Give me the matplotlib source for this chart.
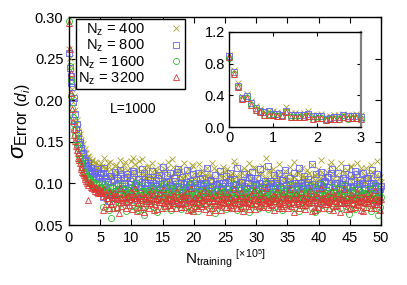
import numpy as np
import matplotlib
matplotlib.use('Agg')
import matplotlib.pyplot as plt

plt.rcParams['font.family'] = ['Liberation Sans', 'DejaVu Sans']
plt.rcParams['mathtext.fontset'] = 'custom'
plt.rcParams['mathtext.rm'] = 'Liberation Sans'
plt.rcParams['mathtext.it'] = 'Liberation Sans:italic'
plt.rcParams['mathtext.sf'] = 'Liberation Sans'

# main panel: N_training (x 1e5) vs sigma_Error, two interleaved sampling grids
x_a = np.arange(0, 50.01, 0.25)
x_b = np.arange(0.125, 50, 0.25)

err_400_a = [
    0.262, 0.241, 0.214, 0.205, 0.188, 0.176, 0.168, 0.159, 0.152, 0.147,
    0.141, 0.136, 0.132, 0.129, 0.124, 0.127, 0.121, 0.125, 0.118, 0.122,
    0.116, 0.121, 0.113, 0.119, 0.111, 0.124, 0.109, 0.117, 0.114, 0.108,
    0.122, 0.112, 0.106, 0.118, 0.115, 0.103, 0.126, 0.111, 0.107, 0.119,
    0.113, 0.131, 0.105, 0.116, 0.109, 0.127, 0.112, 0.104, 0.118, 0.110,
    0.106, 0.121, 0.101, 0.114, 0.108, 0.117, 0.103, 0.111, 0.099, 0.115,
    0.107, 0.112, 0.098, 0.119, 0.104, 0.109, 0.129, 0.102, 0.113, 0.097,
    0.108, 0.115, 0.101, 0.106, 0.111, 0.096, 0.117, 0.104, 0.109, 0.122,
    0.100, 0.107, 0.113, 0.098, 0.105, 0.116, 0.102, 0.110, 0.095, 0.108,
    0.112, 0.101, 0.106, 0.118, 0.099, 0.104, 0.111, 0.097, 0.107, 0.103,
    0.114, 0.100, 0.108, 0.096, 0.110, 0.105, 0.127, 0.102, 0.109, 0.099,
    0.106, 0.113, 0.101, 0.097, 0.108, 0.115, 0.100, 0.104, 0.118, 0.098,
    0.107, 0.103, 0.110, 0.096, 0.112, 0.101, 0.105, 0.099, 0.116, 0.102,
    0.108, 0.097, 0.111, 0.104, 0.100, 0.114, 0.098, 0.106, 0.102, 0.109,
    0.099, 0.112, 0.104, 0.097, 0.108, 0.101, 0.115, 0.103, 0.098, 0.107,
    0.110, 0.100, 0.105, 0.096, 0.113, 0.102, 0.108, 0.099, 0.104, 0.111,
    0.097, 0.106, 0.114, 0.101, 0.109, 0.098, 0.112, 0.103, 0.126, 0.105,
    0.100, 0.110, 0.097, 0.107, 0.102, 0.115, 0.099, 0.104, 0.111, 0.098,
    0.108, 0.121, 0.101, 0.106, 0.097, 0.113, 0.104, 0.118, 0.100, 0.109,
    0.103, 0.111, 0.098, 0.107, 0.114, 0.101, 0.105, 0.110, 0.099, 0.106,
    0.102]
err_400_b = [
    0.251, 0.226, 0.198, 0.183, 0.171, 0.163, 0.156, 0.149, 0.143, 0.138,
    0.137, 0.129, 0.133, 0.124, 0.128, 0.119, 0.126, 0.115, 0.120, 0.117,
    0.124, 0.098, 0.131, 0.105, 0.117, 0.092, 0.126, 0.109, 0.101, 0.121,
    0.095, 0.113, 0.128, 0.099, 0.107, 0.122, 0.090, 0.116, 0.104, 0.127,
    0.097, 0.111, 0.123, 0.093, 0.118, 0.102, 0.129, 0.096, 0.112, 0.106,
    0.120, 0.091, 0.108, 0.125, 0.099, 0.115, 0.094, 0.110, 0.122, 0.101,
    0.089, 0.117, 0.104, 0.126, 0.096, 0.109, 0.120, 0.093, 0.113, 0.100,
    0.118, 0.092, 0.107, 0.124, 0.098, 0.111, 0.087, 0.116, 0.103, 0.121,
    0.095, 0.110, 0.100, 0.123, 0.091, 0.114, 0.105, 0.090, 0.119, 0.097,
    0.108, 0.125, 0.094, 0.102, 0.116, 0.089, 0.111, 0.098, 0.120, 0.093,
    0.106, 0.117, 0.090, 0.104, 0.113, 0.096, 0.122, 0.100, 0.088, 0.115,
    0.103, 0.092, 0.119, 0.097, 0.110, 0.124, 0.094, 0.107, 0.101, 0.118,
    0.089, 0.112, 0.099, 0.121, 0.095, 0.106, 0.131, 0.092, 0.114, 0.102,
    0.117, 0.090, 0.108, 0.096, 0.123, 0.100, 0.111, 0.088, 0.115, 0.104,
    0.094, 0.120, 0.098, 0.109, 0.126, 0.091, 0.113, 0.103, 0.097, 0.119,
    0.106, 0.090, 0.116, 0.101, 0.093, 0.122, 0.099, 0.110, 0.095, 0.117,
    0.104, 0.128, 0.092, 0.108, 0.098, 0.114, 0.089, 0.121, 0.102, 0.111,
    0.096, 0.118, 0.093, 0.107, 0.124, 0.100, 0.112, 0.091, 0.116, 0.105,
    0.120, 0.094, 0.109, 0.097, 0.125, 0.103, 0.090, 0.115, 0.099, 0.110,
    0.118, 0.092, 0.106, 0.122, 0.096, 0.113, 0.101, 0.127, 0.094, 0.108]

err_800_a = [
    0.257, 0.229, 0.216, 0.203, 0.184, 0.172, 0.161, 0.150, 0.143, 0.136,
    0.128, 0.122, 0.124, 0.116, 0.119, 0.111, 0.114, 0.108, 0.117, 0.106,
    0.110, 0.103, 0.113, 0.099, 0.107, 0.102, 0.095, 0.109, 0.086, 0.104,
    0.098, 0.106, 0.093, 0.111, 0.097, 0.101, 0.090, 0.108, 0.094, 0.103,
    0.099, 0.115, 0.092, 0.100, 0.096, 0.105, 0.089, 0.102, 0.112, 0.094,
    0.098, 0.091, 0.104, 0.095, 0.100, 0.087, 0.097, 0.106, 0.093, 0.099,
    0.092, 0.101, 0.096, 0.110, 0.090, 0.098, 0.094, 0.085, 0.103, 0.097,
    0.117, 0.093, 0.100, 0.089, 0.096, 0.102, 0.091, 0.099, 0.095, 0.087,
    0.101, 0.094, 0.098, 0.090, 0.105, 0.092, 0.097, 0.088, 0.100, 0.095,
    0.091, 0.103, 0.096, 0.087, 0.099, 0.093, 0.101, 0.089, 0.097, 0.094,
    0.100, 0.090, 0.095, 0.104, 0.088, 0.098, 0.093, 0.099, 0.086, 0.096,
    0.092, 0.102, 0.097, 0.089, 0.094, 0.100, 0.091, 0.106, 0.095, 0.088,
    0.098, 0.093, 0.101, 0.087, 0.096, 0.092, 0.099, 0.085, 0.095, 0.103,
    0.090, 0.097, 0.094, 0.100, 0.088, 0.096, 0.093, 0.104, 0.091, 0.098,
    0.095, 0.089, 0.099, 0.092, 0.101, 0.086, 0.097, 0.094, 0.090, 0.100,
    0.093, 0.098, 0.088, 0.102, 0.095, 0.091, 0.099, 0.084, 0.096, 0.076,
    0.094, 0.100, 0.089, 0.097, 0.103, 0.092, 0.108, 0.096, 0.113, 0.090,
    0.098, 0.093, 0.101, 0.087, 0.095, 0.099, 0.091, 0.104, 0.094, 0.088,
    0.096, 0.102, 0.090, 0.097, 0.111, 0.093, 0.099, 0.086, 0.100, 0.095,
    0.092, 0.106, 0.089, 0.097, 0.094, 0.101, 0.088, 0.078, 0.096, 0.091,
    0.097]
err_800_b = [
    0.239, 0.221, 0.198, 0.176, 0.166, 0.155, 0.147, 0.140, 0.131, 0.127,
    0.125, 0.118, 0.121, 0.113, 0.115, 0.109, 0.112, 0.105, 0.108, 0.102,
    0.112, 0.084, 0.118, 0.091, 0.103, 0.079, 0.109, 0.096, 0.087, 0.114,
    0.081, 0.100, 0.116, 0.088, 0.094, 0.107, 0.078, 0.111, 0.092, 0.099,
    0.085, 0.113, 0.097, 0.080, 0.105, 0.090, 0.117, 0.083, 0.101, 0.093,
    0.108, 0.079, 0.098, 0.115, 0.086, 0.104, 0.082, 0.110, 0.095, 0.089,
    0.120, 0.084, 0.102, 0.091, 0.112, 0.080, 0.097, 0.106, 0.087, 0.114,
    0.093, 0.078, 0.108, 0.099, 0.085, 0.116, 0.090, 0.103, 0.081, 0.111,
    0.096, 0.086, 0.113, 0.082, 0.100, 0.107, 0.077, 0.094, 0.118, 0.088,
    0.104, 0.091, 0.083, 0.110, 0.098, 0.079, 0.115, 0.092, 0.101, 0.085,
    0.109, 0.080, 0.097, 0.112, 0.089, 0.105, 0.082, 0.119, 0.094, 0.087,
    0.102, 0.078, 0.111, 0.095, 0.084, 0.108, 0.091, 0.114, 0.080, 0.099,
    0.106, 0.086, 0.117, 0.090, 0.081, 0.103, 0.096, 0.121, 0.083, 0.100,
    0.093, 0.110, 0.079, 0.098, 0.113, 0.088, 0.104, 0.085, 0.116, 0.092,
    0.082, 0.107, 0.095, 0.078, 0.112, 0.089, 0.101, 0.118, 0.084, 0.097,
    0.109, 0.081, 0.094, 0.105, 0.087, 0.123, 0.091, 0.080, 0.111, 0.098,
    0.086, 0.114, 0.093, 0.102, 0.079, 0.108, 0.096, 0.083, 0.117, 0.090,
    0.100, 0.085, 0.112, 0.094, 0.078, 0.106, 0.088, 0.119, 0.097, 0.082,
    0.110, 0.092, 0.084, 0.115, 0.099, 0.087, 0.104, 0.080, 0.113, 0.095,
    0.089, 0.107, 0.081, 0.101, 0.116, 0.086, 0.098, 0.111, 0.083, 0.093]

err_1600_a = [
    0.295, 0.224, 0.191, 0.172, 0.158, 0.146, 0.138, 0.129, 0.124, 0.117,
    0.112, 0.109, 0.104, 0.107, 0.099, 0.103, 0.096, 0.100, 0.093, 0.098,
    0.091, 0.095, 0.088, 0.093, 0.097, 0.086, 0.090, 0.058, 0.094, 0.087,
    0.091, 0.084, 0.089, 0.095, 0.082, 0.088, 0.092, 0.085, 0.090, 0.081,
    0.087, 0.093, 0.083, 0.089, 0.068, 0.086, 0.091, 0.080, 0.062, 0.088,
    0.084, 0.090, 0.082, 0.087, 0.093, 0.079, 0.085, 0.089, 0.081, 0.086,
    0.091, 0.083, 0.088, 0.080, 0.086, 0.092, 0.078, 0.085, 0.089, 0.082,
    0.087, 0.081, 0.090, 0.084, 0.079, 0.088, 0.083, 0.086, 0.068, 0.091,
    0.085, 0.080, 0.089, 0.083, 0.087, 0.078, 0.084, 0.090, 0.081, 0.086,
    0.082, 0.088, 0.079, 0.085, 0.091, 0.083, 0.087, 0.080, 0.084, 0.089,
    0.081, 0.086, 0.083, 0.090, 0.078, 0.085, 0.088, 0.082, 0.087, 0.079,
    0.084, 0.089, 0.080, 0.086, 0.082, 0.088, 0.077, 0.085, 0.083, 0.090,
    0.086, 0.081, 0.087, 0.079, 0.084, 0.089, 0.082, 0.086, 0.080, 0.085,
    0.088, 0.083, 0.079, 0.086, 0.081, 0.087, 0.084, 0.090, 0.078, 0.085,
    0.082, 0.087, 0.080, 0.085, 0.089, 0.083, 0.086, 0.079, 0.084, 0.088,
    0.081, 0.086, 0.083, 0.089, 0.080, 0.085, 0.087, 0.082, 0.066, 0.084,
    0.088, 0.083, 0.086, 0.080, 0.085, 0.089, 0.082, 0.087, 0.081, 0.085,
    0.090, 0.079, 0.084, 0.087, 0.082, 0.086, 0.080, 0.085, 0.088, 0.083,
    0.086, 0.081, 0.089, 0.084, 0.079, 0.087, 0.083, 0.085, 0.080, 0.088,
    0.082, 0.086, 0.079, 0.084, 0.088, 0.081, 0.085, 0.083, 0.062, 0.087,
    0.084]
err_1600_b = [
    0.241, 0.205, 0.180, 0.164, 0.152, 0.142, 0.133, 0.127, 0.120, 0.114,
    0.111, 0.106, 0.102, 0.105, 0.097, 0.101, 0.094, 0.099, 0.092, 0.096,
    0.094, 0.072, 0.099, 0.081, 0.088, 0.068, 0.096, 0.084, 0.075, 0.091,
    0.070, 0.086, 0.098, 0.077, 0.083, 0.093, 0.067, 0.089, 0.079, 0.095,
    0.073, 0.087, 0.100, 0.071, 0.085, 0.078, 0.097, 0.069, 0.090, 0.082,
    0.092, 0.074, 0.080, 0.096, 0.072, 0.088, 0.066, 0.093, 0.083, 0.076,
    0.099, 0.070, 0.086, 0.079, 0.094, 0.068, 0.084, 0.091, 0.075, 0.097,
    0.081, 0.069, 0.090, 0.077, 0.087, 0.095, 0.073, 0.083, 0.100, 0.071,
    0.089, 0.078, 0.067, 0.092, 0.080, 0.085, 0.098, 0.074, 0.088, 0.070,
    0.094, 0.076, 0.084, 0.065, 0.091, 0.079, 0.096, 0.072, 0.086, 0.082,
    0.069, 0.093, 0.077, 0.089, 0.074, 0.099, 0.081, 0.068, 0.087, 0.075,
    0.095, 0.071, 0.083, 0.090, 0.078, 0.066, 0.092, 0.080, 0.097, 0.073,
    0.085, 0.070, 0.094, 0.076, 0.088, 0.082, 0.101, 0.069, 0.084, 0.079,
    0.091, 0.072, 0.087, 0.096, 0.075, 0.083, 0.068, 0.093, 0.080, 0.089,
    0.074, 0.098, 0.077, 0.086, 0.070, 0.092, 0.081, 0.067, 0.095, 0.078,
    0.088, 0.073, 0.090, 0.083, 0.097, 0.071, 0.085, 0.076, 0.093, 0.069,
    0.082, 0.099, 0.074, 0.087, 0.079, 0.091, 0.068, 0.084, 0.096, 0.072,
    0.089, 0.077, 0.094, 0.070, 0.086, 0.080, 0.098, 0.073, 0.083, 0.063,
    0.092, 0.075, 0.087, 0.069, 0.095, 0.078, 0.084, 0.090, 0.071, 0.088,
    0.076, 0.093, 0.082, 0.067, 0.089, 0.074, 0.097, 0.080, 0.085, 0.072]

err_3200_a = [
    0.293, 0.233, 0.190, 0.165, 0.151, 0.140, 0.131, 0.124, 0.117, 0.112,
    0.108, 0.103, 0.080, 0.100, 0.096, 0.099, 0.093, 0.096, 0.090, 0.094,
    0.088, 0.091, 0.085, 0.089, 0.086, 0.083, 0.087, 0.075, 0.084, 0.088,
    0.082, 0.086, 0.064, 0.084, 0.080, 0.087, 0.083, 0.079, 0.085, 0.081,
    0.084, 0.078, 0.086, 0.082, 0.076, 0.085, 0.080, 0.083, 0.066, 0.081,
    0.079, 0.084, 0.077, 0.082, 0.086, 0.075, 0.081, 0.083, 0.078, 0.080,
    0.085, 0.076, 0.082, 0.079, 0.083, 0.074, 0.081, 0.077, 0.084, 0.080,
    0.078, 0.083, 0.075, 0.081, 0.086, 0.077, 0.080, 0.082, 0.069, 0.079,
    0.083, 0.076, 0.081, 0.078, 0.084, 0.073, 0.080, 0.082, 0.077, 0.085,
    0.079, 0.074, 0.082, 0.080, 0.077, 0.083, 0.075, 0.081, 0.078, 0.084,
    0.076, 0.082, 0.079, 0.083, 0.074, 0.080, 0.078, 0.085, 0.077, 0.081,
    0.073, 0.079, 0.083, 0.076, 0.081, 0.078, 0.084, 0.075, 0.080, 0.082,
    0.077, 0.083, 0.079, 0.074, 0.081, 0.085, 0.076, 0.080, 0.078, 0.082,
    0.075, 0.081, 0.079, 0.084, 0.077, 0.080, 0.073, 0.082, 0.078, 0.083,
    0.080, 0.076, 0.082, 0.078, 0.084, 0.075, 0.081, 0.079, 0.083, 0.077,
    0.081, 0.074, 0.079, 0.083, 0.076, 0.082, 0.078, 0.080, 0.068, 0.085,
    0.077, 0.081, 0.079, 0.084, 0.075, 0.082, 0.078, 0.080, 0.083, 0.076,
    0.082, 0.079, 0.074, 0.081, 0.077, 0.083, 0.080, 0.076, 0.084, 0.078,
    0.080, 0.083, 0.077, 0.081, 0.075, 0.082, 0.079, 0.068, 0.078, 0.084,
    0.076, 0.081, 0.079, 0.083, 0.077, 0.080, 0.082, 0.075, 0.079, 0.083,
    0.081]
err_3200_b = [
    0.262, 0.209, 0.175, 0.158, 0.145, 0.136, 0.128, 0.120, 0.114, 0.110,
    0.105, 0.101, 0.098, 0.102, 0.094, 0.097, 0.091, 0.095, 0.088, 0.092,
    0.088, 0.068, 0.093, 0.075, 0.083, 0.071, 0.090, 0.079, 0.071, 0.086,
    0.072, 0.081, 0.094, 0.073, 0.078, 0.087, 0.070, 0.084, 0.074, 0.091,
    0.069, 0.082, 0.095, 0.067, 0.080, 0.072, 0.089, 0.072, 0.085, 0.077,
    0.087, 0.070, 0.076, 0.092, 0.068, 0.083, 0.069, 0.088, 0.078, 0.071,
    0.093, 0.073, 0.081, 0.074, 0.089, 0.071, 0.079, 0.086, 0.070, 0.091,
    0.076, 0.072, 0.085, 0.072, 0.082, 0.090, 0.068, 0.078, 0.094, 0.067,
    0.084, 0.073, 0.070, 0.087, 0.075, 0.080, 0.092, 0.069, 0.083, 0.066,
    0.089, 0.071, 0.079, 0.068, 0.086, 0.074, 0.091, 0.068, 0.081, 0.077,
    0.072, 0.088, 0.072, 0.084, 0.070, 0.093, 0.076, 0.071, 0.082, 0.071,
    0.090, 0.067, 0.078, 0.085, 0.073, 0.069, 0.087, 0.075, 0.092, 0.069,
    0.080, 0.073, 0.089, 0.072, 0.083, 0.077, 0.095, 0.072, 0.079, 0.074,
    0.086, 0.068, 0.082, 0.091, 0.071, 0.078, 0.071, 0.088, 0.075, 0.084,
    0.070, 0.093, 0.073, 0.081, 0.066, 0.087, 0.076, 0.070, 0.090, 0.074,
    0.083, 0.069, 0.085, 0.078, 0.092, 0.067, 0.080, 0.072, 0.088, 0.072,
    0.077, 0.094, 0.070, 0.082, 0.075, 0.086, 0.071, 0.079, 0.091, 0.068,
    0.084, 0.073, 0.089, 0.066, 0.081, 0.076, 0.093, 0.069, 0.078, 0.069,
    0.087, 0.071, 0.082, 0.072, 0.090, 0.074, 0.079, 0.085, 0.067, 0.083,
    0.072, 0.088, 0.077, 0.070, 0.084, 0.070, 0.092, 0.075, 0.080, 0.068]

# inset panel
x_inset = np.arange(0, 3.01, 0.1)
inset_400 = [0.905, 0.72, 0.56, 0.39, 0.42, 0.33, 0.27, 0.23, 0.21, 0.21, 0.20,
             0.19, 0.18, 0.25, 0.18, 0.18, 0.17, 0.18, 0.21, 0.15, 0.16, 0.17,
             0.13, 0.14, 0.15, 0.15, 0.17, 0.16, 0.16, 0.17, 0.15]
inset_800 = [0.89, 0.69, 0.52, 0.37, 0.39, 0.31, 0.24, 0.21, 0.19, 0.20, 0.17,
             0.17, 0.16, 0.21, 0.16, 0.16, 0.15, 0.16, 0.17, 0.14, 0.14, 0.14,
             0.11, 0.12, 0.13, 0.13, 0.15, 0.14, 0.14, 0.14, 0.13]
inset_1600 = [0.875, 0.67, 0.50, 0.35, 0.37, 0.28, 0.22, 0.19, 0.16, 0.17, 0.15,
              0.14, 0.14, 0.19, 0.13, 0.13, 0.13, 0.13, 0.14, 0.11, 0.12, 0.12,
              0.09, 0.10, 0.11, 0.11, 0.13, 0.11, 0.12, 0.12, 0.11]
inset_3200 = [0.88, 0.67, 0.50, 0.35, 0.37, 0.28, 0.22, 0.19, 0.16, 0.16, 0.15,
              0.14, 0.14, 0.19, 0.13, 0.13, 0.13, 0.13, 0.14, 0.11, 0.12, 0.12,
              0.09, 0.10, 0.11, 0.11, 0.13, 0.12, 0.12, 0.12, 0.11]

labels = [r'N$_\mathrm{z}$ = 400', r'N$_\mathrm{z}$ = 800',
          r'N$_\mathrm{z}$ = 1600', r'N$_\mathrm{z}$ = 3200']
colors = ['#a8a030', '#6464f0', '#30c030', '#e03434']
markers = ['x', 's', 'o', '^']
msizes = [4.6, 4.4, 4.4, 4.6]

fig = plt.figure(figsize=(4.07, 2.85), dpi=100)
ax = fig.add_axes([0.1695, 0.2105, 0.7665, 0.7295])

x_all = np.concatenate([x_a, x_b])
main_sets = [(err_400_a, err_400_b), (err_800_a, err_800_b),
             (err_1600_a, err_1600_b), (err_3200_a, err_3200_b)]
for (ya, yb), lab, c, m, ms in zip(main_sets, labels, colors, markers, msizes):
    ax.plot(x_all, np.concatenate([ya, yb]), linestyle='none', marker=m, ms=ms,
            mfc='none', mec=c, mew=0.6, label=lab, clip_on=False)

ax.set_xlim(0, 50)
ax.set_ylim(0.05, 0.30)
ax.set_xticks(range(0, 51, 5))
ax.set_yticks([0.05, 0.10, 0.15, 0.20, 0.25, 0.30])
ax.set_yticklabels(['0.05', '0.10', '0.15', '0.20', '0.25', '0.30'])
ax.tick_params(direction='in', length=4, width=0.8, labelsize=10.5, top=True, right=True, pad=4)
for s in ax.spines.values():
    s.set_linewidth(1.0)

ax.set_xlabel(r'N$_\mathrm{training}$ $^{[\times 10^5]}$', fontsize=11, labelpad=2)
ax.set_ylabel(r'$\sigma_{\mathrm{Error}\ (d_i)}$', fontsize=16, labelpad=1)
ax.text(6.5, 0.19, 'L=1000', fontsize=10, ha='left', va='center')

leg = ax.legend(loc='upper left', bbox_to_anchor=(0.022, 0.99), markerfirst=False,
                fancybox=False, framealpha=1, edgecolor='black', fontsize=10.5,
                handlelength=1.0, handletextpad=1.6, labelspacing=0.0,
                borderpad=0.15, borderaxespad=0.0)
leg.get_frame().set_linewidth(1.0)

axin = fig.add_axes([0.5634, 0.5533, 0.3229, 0.3354])
for y, c, m, ms in zip([inset_400, inset_800, inset_1600, inset_3200], colors, markers, msizes):
    axin.plot(x_inset, y, linestyle='none', marker=m, ms=ms, mfc='none', mec=c,
              mew=0.6, clip_on=False)
axin.set_xlim(0, 3)
axin.set_ylim(0, 1.2)
axin.set_xticks([0, 1, 2, 3])
axin.set_yticks([0.0, 0.4, 0.8, 1.2])
axin.set_yticklabels(['0.0', '0.4', '0.8', '1.2'])
axin.tick_params(direction='in', length=3, width=0.8, labelsize=10.5, top=True, right=True, pad=3)
for s in axin.spines.values():
    s.set_linewidth(1.0)
axin.spines['right'].set_color('#808080')
axin.spines['right'].set_linewidth(1.6)

fig.savefig('out.png', dpi=100)
